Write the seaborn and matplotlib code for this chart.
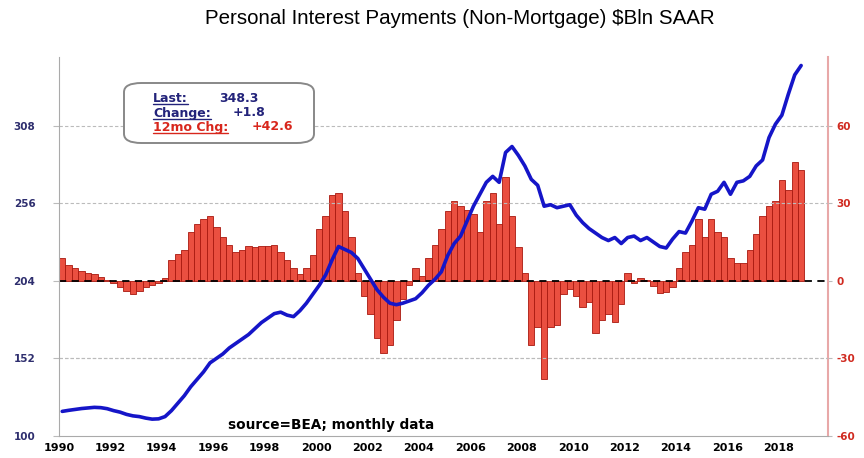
import numpy as np
import matplotlib
matplotlib.use("Agg")
import matplotlib.pyplot as plt
from matplotlib.patches import FancyBboxPatch
from matplotlib.lines import Line2D
import seaborn as sns

# quarterly readings, 1990Q1 .. 2018Q4
payments = [
    116.5, 117.2, 117.8, 118.4,   # 1990
    118.8, 119.2, 119.0, 118.3,   # 1991
    117.0, 116.0, 114.5, 113.5,   # 1992
    113.0, 112.0, 111.3, 111.5,   # 1993
    113.0, 117.0, 122.0, 127.0,   # 1994
    133.0, 138.0, 143.0, 149.0,   # 1995
    152.0, 155.0, 159.0, 162.0,   # 1996
    165.0, 168.0, 172.0, 176.0,   # 1997
    179.0, 182.0, 183.0, 181.0,   # 1998
    180.0, 184.0, 189.0, 195.0,   # 1999
    201.0, 208.0, 218.0, 227.0,   # 2000
    225.0, 223.0, 219.0, 212.0,   # 2001
    205.0, 198.0, 193.0, 189.0,   # 2002
    188.0, 189.0, 190.5, 192.0,   # 2003
    196.0, 201.0, 205.0, 210.0,   # 2004
    221.0, 229.0, 234.0, 244.0,   # 2005
    254.0, 262.0, 270.0, 274.0,   # 2006
    270.0, 290.0, 294.0, 288.0,   # 2007
    281.0, 272.0, 268.0, 254.0,   # 2008
    255.0, 253.0, 254.0, 255.0,   # 2009
    248.0, 243.0, 239.0, 236.0,   # 2010
    233.0, 231.0, 233.0, 229.0,   # 2011
    233.0, 234.0, 231.0, 233.0,   # 2012
    230.0, 227.0, 226.0, 232.0,   # 2013
    237.0, 236.0, 244.0, 253.0,   # 2014
    252.0, 262.0, 264.0, 270.0,   # 2015
    262.0, 270.0, 271.0, 274.0,   # 2016
    281.0, 285.0, 300.0, 309.0,   # 2017
    315.0, 329.0, 342.0, 348.3,   # 2018
]

chg_12mo = [
    9.0, 6.0, 5.0, 3.8,
    3.0, 2.5, 1.5, 0.5,
    -0.8, -2.5, -4.0, -5.2,
    -4.0, -2.5, -1.5, -0.8,
    1.0, 8.0, 10.5, 12.0,
    19.0, 22.0, 24.0, 25.0,
    21.0, 17.0, 14.0, 11.0,
    12.0, 13.3, 13.0, 13.3,
    13.5, 13.9, 11.0, 8.0,
    5.0, 2.5, 5.0, 10.0,
    20.0, 25.0, 33.0, 34.0,
    27.0, 17.0, 3.0, -6.0,
    -13.0, -22.0, -28.0, -25.0,
    -15.0, -7.0, -1.5, 5.0,
    2.0, 9.0, 14.0, 20.0,
    27.0, 31.0, 29.0, 27.5,
    26.0, 19.0, 31.0, 34.0,
    22.0, 40.0, 25.0, 13.0,
    3.0, -25.0, -18.0, -38.0,
    -18.0, -17.0, -5.0, -3.0,
    -6.0, -10.0, -8.0, -20.0,
    -15.0, -13.0, -16.0, -9.0,
    3.0, -1.0, 1.0, 0.5,
    -2.0, -4.7, -4.5, -2.5,
    5.0, 11.0, 14.0, 24.0,
    17.0, 24.0, 19.0, 17.0,
    9.0, 7.0, 7.0, 12.0,
    18.0, 25.0, 29.0, 31.0,
    39.0, 35.0, 46.0, 43.0,
]

left_ticks = [100, 152, 204, 256, 308]
right_ticks = [-60, -30, 0, 30, 60]
year_ticks = list(range(1990, 2019, 2))

dates = 1990 + np.arange(len(payments)) * 0.25 + 0.125

sns.set_style("white")
plt.rcParams["font.family"] = ["DejaVu Sans"]
plt.rcParams["text.color"] = "black"

fig = plt.figure(figsize=(8.64, 4.58), dpi=100)
ax = fig.add_axes([59 / 864, 1 - 436 / 458, (828 - 59) / 864, (436 - 57) / 458])
ax2 = ax.twinx()

# bars on the right axis
sns.barplot(x=dates, y=chg_12mo, native_scale=True, errorbar=None, ax=ax2,
            color="#EA4F40", edgecolor="#A8180F", linewidth=0.6, width=1.0,
            saturation=1)
ax2.axhline(0, color="black", ls=(0, (4, 3)), lw=1.3, zorder=5)

# line on the left axis, drawn above the bars
sns.lineplot(x=dates, y=payments, ax=ax, color="#1515C8", lw=2.6)
ax.set_zorder(ax2.get_zorder() + 1)
ax.patch.set_visible(False)

ax.set_xlim(1990, 2019.92)
ax.set_ylim(100, 354)
ax2.set_ylim(-60, (354 - 204) / 52 * 30)

ax.set_yticks(left_ticks)
ax.set_yticklabels([str(t) for t in left_ticks], color="#2E2E6E",
                   fontweight="bold", fontsize=7.5)
ax2.set_yticks(right_ticks)
ax2.set_yticklabels([str(t) for t in right_ticks], color="#D02A20",
                    fontweight="bold", fontsize=7.5)
ax.set_xticks(year_ticks)
ax.set_xticklabels([str(t) for t in year_ticks], fontweight="bold",
                   fontsize=8, color="black")
ax.set_xlabel("")
ax.set_ylabel("")
ax2.set_ylabel("")

ax.tick_params(axis="y", length=4, color="#BBBBBB", pad=13)
ax2.tick_params(axis="y", length=3, color="#BBBBBB", pad=3)
ax.tick_params(axis="x", direction="in", length=3, color="#999999", pad=5)

for t in [152, 256, 308]:
    ax.axhline(t, color="#BBBBBB", ls=(0, (3, 2)), lw=0.8, zorder=0)
ax2.axhline(-30, color="#BBBBBB", ls=(0, (3, 2)), lw=0.8, zorder=0)

for a in (ax, ax2):
    a.spines["top"].set_visible(False)
ax.spines["left"].set_color("#AAAAAA")
ax.spines["bottom"].set_color("#AAAAAA")
ax.spines["right"].set_visible(False)
ax2.spines["left"].set_visible(False)
ax2.spines["bottom"].set_visible(False)
ax2.spines["right"].set_color("#E8A8A8")
ax2.spines["right"].set_linewidth(1.5)

fig.text(460 / 864, 1 - 18 / 458, "Personal Interest Payments (Non-Mortgage) \\$Bln SAAR",
         ha="center", va="center", fontsize=14.8, family="Liberation Sans",
         color="black")
fig.text(228 / 864, 1 - 425 / 458, "source=BEA; monthly data",
         ha="left", va="center", fontsize=9.8, fontweight="bold", color="black")

# info box
box = FancyBboxPatch((124 / 864, 1 - 143 / 458), 190 / 864, 60 / 458,
                     boxstyle="round,pad=0,rounding_size=0.02",
                     transform=fig.transFigure, fc="white", ec="#888888",
                     lw=1.4, zorder=10)
fig.patches.append(box)

navy = "#23237A"
red = "#D8261C"
rows = [("Last:", "348.3", 98, 219, navy),
        ("Change:", "+1.8", 113, 233, navy),
        ("12mo Chg:", "+42.6", 127, 252, red)]
labels = []
for lab, val, yy, xv, col in rows:
    t = fig.text(153 / 864, 1 - yy / 458, lab, color=col, fontsize=9,
                 fontweight="bold", va="center", zorder=11)
    fig.text(xv / 864, 1 - yy / 458, val, color=col, fontsize=9,
             fontweight="bold", va="center", zorder=11)
    labels.append((t, col))

fig.canvas.draw()
inv = fig.transFigure.inverted()
for t, col in labels:
    bb = t.get_window_extent()
    (x0, y0), (x1, _) = inv.transform([(bb.x0, bb.y0 + 1), (bb.x1, bb.y0)])
    fig.lines.append(Line2D([x0, x1], [y0, y0], transform=fig.transFigure,
                            color=col, lw=1.0, zorder=12))

fig.savefig("out.png", dpi=100)
